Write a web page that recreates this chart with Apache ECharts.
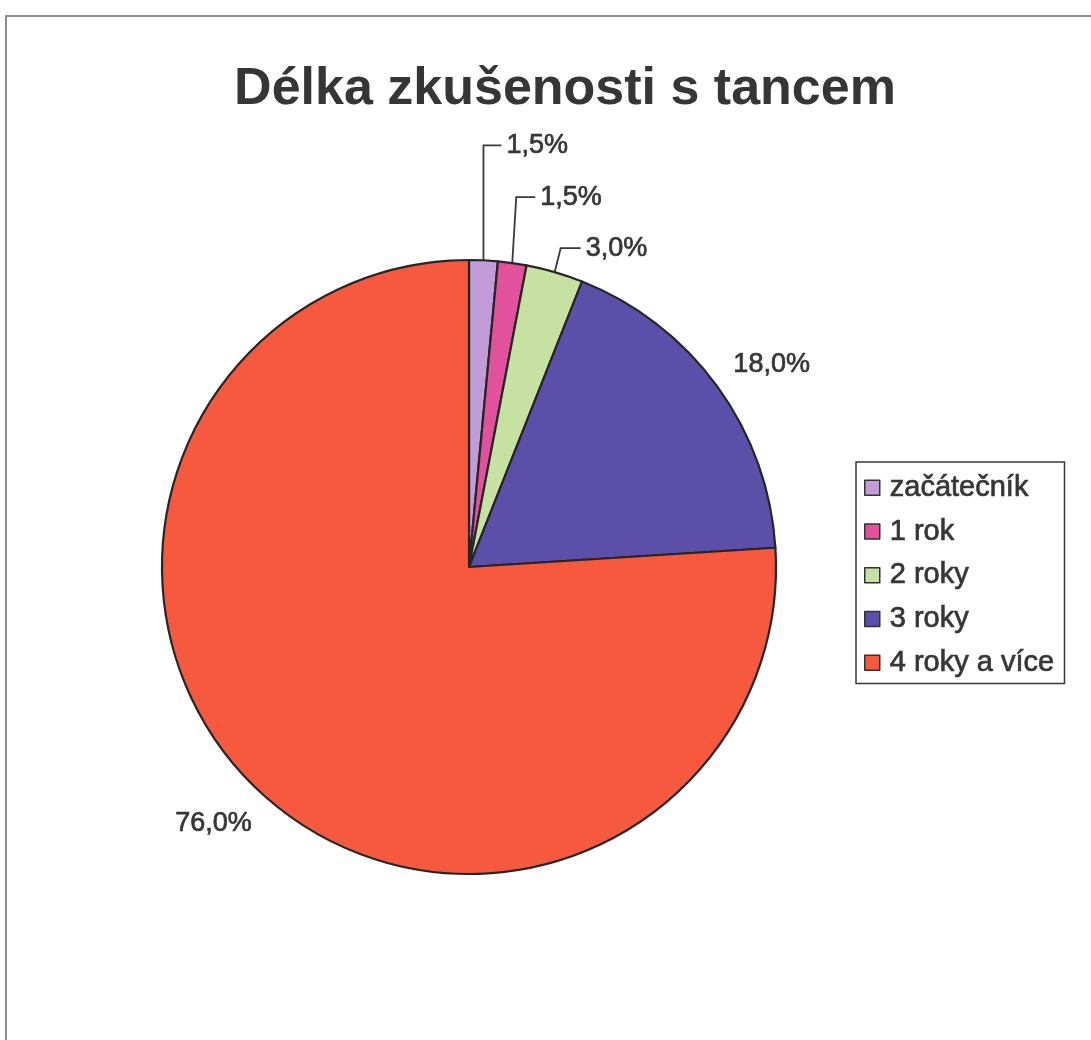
<!DOCTYPE html>
<html>
<head>
<meta charset="utf-8">
<title>Délka zkušenosti s tancem</title>
<script src="https://cdn.jsdelivr.net/npm/echarts@6/dist/echarts.min.js"></script>
<style>
  html, body { margin: 0; padding: 0; background: #fff; }
  #chart { width: 1091px; height: 1040px; }
</style>
</head>
<body>
<div id="chart"></div>
<script>
// Survey answers: how long the respondents have been dancing (share in %)
const categories = ['začátečník', '1 rok', '2 roky', '3 roky', '4 roky a více'];
const shares = [1.5, 1.5, 3.0, 18.0, 76.0];
const sliceColors = ['#c39bd8', '#e2529c', '#c6e1a2', '#5b4fa9', '#f6593e'];

const FONT = '"Liberation Sans", Arial, sans-serif';
const TEXT = '#363636';
const PIE_CENTER = [469, 567];
const PIE_RADIUS = 307;

// Label placement relative to the point where each slice's mid-angle meets the rim:
// rise = how far the leader goes up, lean = horizontal drift of the upright part,
// run = horizontal part of the leader, dx/dy = offset when there is no leader.
const labelPlacement = [
  { leader: true, rise: 115, lean: 0, run: 18 },
  { leader: true, rise: 66, lean: 4, run: 19 },
  { leader: true, rise: 24, lean: 6, run: 20 },
  { leader: false, dx: 16, dy: -22, align: 'left' },
  { leader: false, dx: -7, dy: 33, align: 'right' }
];

const total = shares.reduce((a, b) => a + b, 0);
function rimPoint(i) {
  let before = 0;
  for (let k = 0; k < i; k++) before += shares[k];
  const mid = (before + shares[i] / 2) / total * Math.PI * 2;
  return [PIE_CENTER[0] + PIE_RADIUS * Math.sin(mid), PIE_CENTER[1] - PIE_RADIUS * Math.cos(mid)];
}

const pieData = categories.map((name, i) => ({
  name,
  value: shares[i],
  itemStyle: { color: sliceColors[i] },
  labelLine: { show: labelPlacement[i].leader }
}));

// a thin outline in the text colour gives the regular face a slightly heavier stroke
const heavier = { textBorderColor: TEXT, textBorderWidth: 0.7 };

const chart = echarts.init(document.getElementById('chart'), null, { renderer: 'canvas' });

chart.setOption({
  backgroundColor: '#ffffff',
  animation: false,
  title: {
    text: 'Délka zkušenosti s tancem',
    left: 560,
    textAlign: 'center',
    top: 59,
    textStyle: { fontFamily: FONT, fontSize: 52, fontWeight: 'bold', color: TEXT }
  },
  legend: {
    orient: 'vertical',
    left: 856,
    top: 462,
    width: 210,
    padding: [11, 10, 6, 8],
    itemGap: 14,
    itemWidth: 15,
    itemHeight: 15,
    borderColor: '#3a3a3a',
    borderWidth: 1.5,
    backgroundColor: '#fff',
    icon: 'rect',
    itemStyle: { borderColor: '#333', borderWidth: 1.5 },
    textStyle: Object.assign({ fontFamily: FONT, fontSize: 29, color: TEXT, padding: [0, 0, 0, 5] }, heavier),
    data: categories
  },
  graphic: [
    {
      type: 'polyline',
      silent: true,
      shape: { points: [[6, 1040], [6, 16], [1091, 16]] },
      style: { stroke: '#8c8c8c', lineWidth: 2, fill: null }
    }
  ],
  series: [{
    type: 'pie',
    center: PIE_CENTER,
    radius: PIE_RADIUS,
    startAngle: 90,
    clockwise: true,
    avoidLabelOverlap: false,
    emphasis: { disabled: true },
    itemStyle: { borderColor: '#262626', borderWidth: 2.2 },
    label: Object.assign({
      show: true,
      position: 'outside',
      fontFamily: FONT,
      fontSize: 27,
      color: TEXT,
      formatter: p => p.value.toFixed(1).replace('.', ',') + '%'
    }, heavier),
    labelLine: {
      show: true,
      smooth: false,
      lineStyle: { color: '#3a3a3a', width: 1.8 }
    },
    labelLayout: function (params) {
      const i = params.dataIndex;
      const pl = labelPlacement[i];
      const a = rimPoint(i);
      if (pl.leader) {
        const top = [a[0] + pl.lean, a[1] - pl.rise];
        const end = [top[0] + pl.run, top[1]];
        return {
          x: end[0] + 5,
          y: end[1],
          align: 'left',
          verticalAlign: 'middle',
          labelLinePoints: [a, top, end]
        };
      }
      return {
        x: a[0] + pl.dx,
        y: a[1] + pl.dy,
        align: pl.align,
        verticalAlign: 'middle'
      };
    },
    data: pieData
  }]
});
</script>
</body>
</html>
